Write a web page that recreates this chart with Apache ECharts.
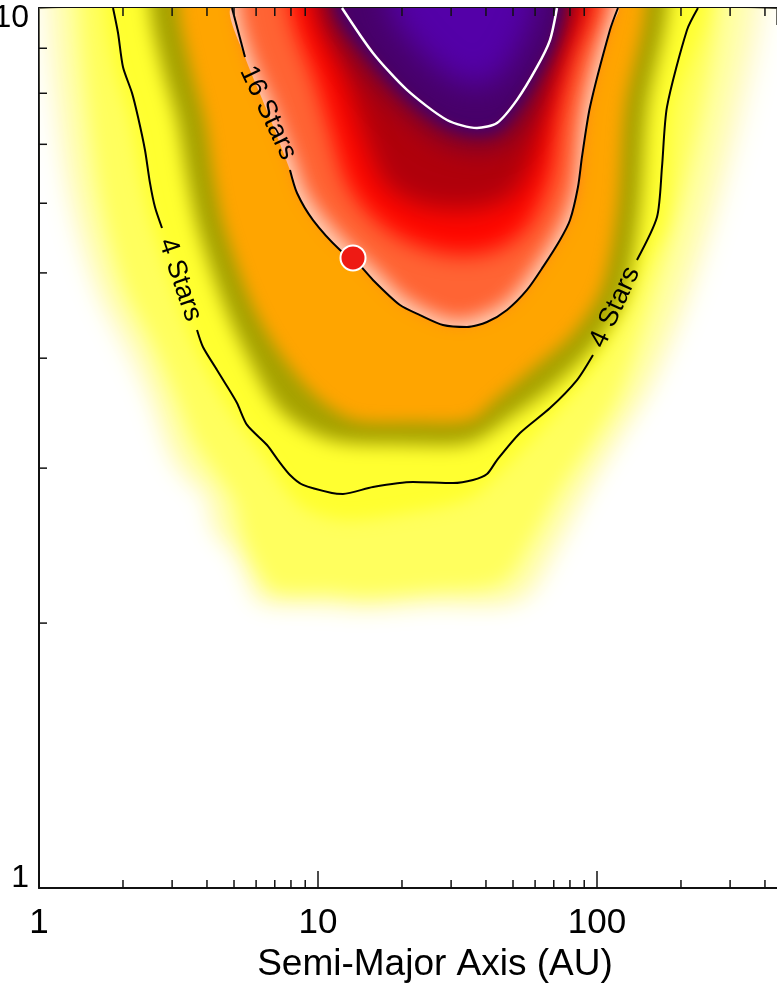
<!DOCTYPE html>
<html><head><meta charset="utf-8">
<script src="https://cdn.jsdelivr.net/npm/echarts@6/dist/echarts.min.js"></script>
<style>html,body{margin:0;padding:0;background:#fff}#c{width:777px;height:989px}</style>
</head><body><div id="c"></div>
<script>
// ---- axes ----
const xRange = [1, 441.8];
const yRange = [1, 10];
const xTickLabels = [1, 10, 100];
const yTickLabels = [1, 10];
const xMinorTicks = [2,3,4,5,6,7,8,9,20,30,40,50,60,70,80,90,200,300,400];
const yMinorTicks = [2,3,4,5,6,7,8,9];
const xTitle = 'Semi-Major Axis (AU)';

// ---- contour lines (semi-major axis AU, mass) ----
const stars4A = [[1.842,10],[1.92,9.367],[2.0,8.57],[2.154,8.009],[2.264,7.518],[2.398,6.897],[2.499,6.327],[2.604,5.94],[2.76,5.623]];
const stars4B = [[3.685,4.306],[3.87,4.119],[4.345,3.879],[4.642,3.749],[5.125,3.557],[5.567,3.359],[6.565,3.187],[7.189,3.064],[7.937,2.947],[8.837,2.871],[11.22,2.811],[12.29,2.804],[15.74,2.856],[21.9,2.893],[30.47,2.885],[35.94,2.908],[40.35,2.954],[43.81,3.064],[52.97,3.289],[67.85,3.511],[84.79,3.778],[96.76,4.034]];
const stars4C = [[139.1,5.172],[164.1,5.787],[171.0,6.597],[178.2,7.721],[210.2,9.441],[230.1,10]];
const stars16A = [[4.918,10],[5.474,8.797]];
const stars16Gap = [[6.619,7.598]];
const stars16B = [[7.936,6.546],[8.41,6.163],[9.596,5.742],[11.99,5.309],[13.35,5.199],[15.74,4.909],[19.67,4.597],[23.21,4.478],[28.05,4.363],[34.2,4.34],[40.34,4.397],[47.58,4.538],[56.12,4.782],[64.05,5.079],[73.7,5.45],[80.05,5.742],[85.48,6.261],[88.35,6.772],[94.39,7.718],[111.3,9.441],[118.9,10]];
const whiteContour = [[12.19,10],[15.74,8.89],[20.84,8.071],[29.0,7.46],[37.15,7.305],[43.81,7.402],[51.68,7.863],[60.95,8.57],[67.84,9.196],[71.87,10]];

// contour labels
const labelText = ['4 Stars', '16 Stars', '4 Stars'];
const labelPos = [[3.2,4.91],[6.62,7.6],[116,4.57]];

// planet
const planet = [[13.35, 5.2]];

// ---- colour field, read as nested level regions (outer -> inner) ----
const fieldOuter = [[1.04,14],[1.04,10],[1.113,7.86],[1.27,6.05],[1.587,4.78],[2.084,4.03],[2.499,3.59],[2.9,3.13],[3.255,2.94],[3.903,2.80],[4.17,2.565],[4.918,2.434],[5.706,2.21],[6.095,2.113],[11.04,2.091],[14.74,2.075],[25.2,2.103],[54.3,2.125],[73.69,2.453],[94.4,2.848],[122.9,3.272],[161.4,3.759],[215.4,4.658],[280.5,6.05],[347.7,7.86],[403.4,10],[403.4,14]];
const fieldPale = [[1.189,14],[1.189,10],[1.27,7.86],[1.426,6.05],[1.767,4.78],[2.301,4.09],[2.714,3.59],[3.149,3.15],[3.624,2.95],[4.274,2.80],[4.528,2.55],[5.254,2.42],[5.946,2.24],[6.352,2.147],[11.04,2.13],[14.74,2.113],[25.2,2.136],[50.83,2.158],[66.74,2.453],[85.5,2.833],[111.3,3.247],[142.6,3.70],[190.4,4.658],[243.8,6.05],[294.8,7.86],[339.2,10],[339.2,14]];
const fieldYellow = [[1.403,14],[1.403,10],[1.498,7.86],[1.682,6.05],[2.033,4.84],[2.605,4.14],[3.149,3.605],[3.624,3.23],[4.274,2.986],[5.041,2.76],[5.475,2.485],[6.3,2.268],[7.013,2.181],[11.04,2.169],[14.74,2.152],[25.2,2.181],[44.91,2.227],[57.53,2.485],[72.49,2.833],[92.85,3.188],[118.9,3.633],[154.9,4.658],[198.4,6.05],[239.8,7.86],[271.4,10],[271.4,14]];
const fieldBright = [[1.724,14],[1.724,10],[1.872,8.50],[2.119,7.46],[2.34,6.33],[2.583,5.59],[3.448,4.27],[4.067,3.83],[4.837,3.49],[6.3,3.105],[8.621,2.724],[12.29,2.619],[21.9,2.674],[35.06,2.774],[46.03,2.986],[70.71,3.447],[102.5,3.982],[148.6,5.13],[175.3,5.74],[190.4,7.70],[245.8,10],[245.8,14]];
const fieldOlive = [[2.499,14],[2.499,10],[2.76,8.57],[3.123,7.46],[3.42,6.33],[3.714,5.62],[4.528,4.66],[5.475,4.07],[7.309,3.49],[11.04,3.23],[21.9,3.188],[35.06,3.204],[48.77,3.421],[70.71,3.729],[98.38,4.14],[126.0,4.72],[142.6,5.895],[152.3,7.72],[179.7,10],[179.7,14]];
const fieldOrange = [[3.175,14],[3.175,10],[3.506,8.57],[3.936,7.46],[4.274,6.33],[4.642,5.62],[5.801,4.62],[7.189,4.09],[9.676,3.643],[13.35,3.41],[21.9,3.385],[35.06,3.403],[43.45,3.595],[58.49,3.889],[80.7,4.25],[103.4,4.794],[117.9,5.895],[126.0,7.72],[148.6,10],[148.6,14]];
const fieldSalmon = [[5.21,14],[5.21,10],[5.801,8.80],[7.013,7.66],[8.341,6.63],[8.909,6.244],[10.17,5.85],[12.6,5.42],[16.41,5.012],[20.33,4.695],[28.05,4.456],[34.2,4.432],[46.8,4.634],[60.95,5.131],[75.54,5.743],[82.72,6.26],[89.1,7.718],[105.1,9.441],[112.2,10],[112.2,14]];
const fieldRed = [[7.938,14],[7.938,10],[9.757,8.28],[11.04,7.27],[12.5,6.38],[14.74,5.895],[18.88,5.52],[25.2,5.31],[34.2,5.24],[44.91,5.337],[55.2,5.594],[62.48,5.972],[68.98,6.545],[72.49,7.461],[81.37,8.728],[95.97,10],[95.97,14]];
const fieldDarkRed = [[10,14],[10,10],[12.5,8.28],[14.74,7.08],[17.38,6.29],[23.2,5.97],[34.2,5.895],[48.77,6.083],[57.53,6.545],[63.52,7.268],[67.85,8.069],[76.8,9.197],[85.5,10],[85.5,14]];
const fieldMaroon = [[10.6,14],[10.6,10],[13.57,8.73],[18.88,7.76],[27.37,7.08],[37.14,6.90],[46.8,7.03],[57.53,7.56],[66.74,8.39],[73.69,9.197],[78.72,10],[78.72,14]];
const fieldPurple = [[11.51,14],[11.51,10],[14.98,8.80],[20.17,7.94],[28.52,7.325],[37.14,7.174],[44.91,7.268],[53.85,7.78],[63.52,8.503],[70.71,9.149],[75.54,10],[75.54,14]];
const fieldIndigo = [[18.11,14],[18.11,10],[21.36,9.197],[27.37,8.503],[35.06,8.176],[43.09,8.284],[50.83,8.843],[56.59,9.441],[59.95,10],[59.95,14]];

const FONT = '"Liberation Sans", Arial, Helvetica, sans-serif';
const OFF = 4000;

function bandSeries(points, color, blur, smooth) {
  return {
    type: 'custom', clip: true, silent: true, z: 2,
    data: points,
    renderItem: function (params, api) {
      if (params.dataIndex !== 0) return null;
      const pts = points.map(p => api.coord(p));
      if (!blur) {
        return { type: 'polygon', shape: { points: pts, smooth: smooth }, style: { fill: color } };
      }
      const shifted = pts.map(p => [p[0] - OFF, p[1]]);
      return {
        type: 'polygon', shape: { points: shifted, smooth: smooth },
        style: { fill: color, shadowColor: color, shadowBlur: blur, shadowOffsetX: OFF, shadowOffsetY: 0 }
      };
    }
  };
}

function lineSeries(data, color, width) {
  return { type: 'line', data: data, symbol: 'none', smooth: 0.25, silent: true, z: 4,
    lineStyle: { color: color, width: width }, clip: true };
}

const near = (v, arr) => arr.some(t => Math.abs(v - t) / t < 1e-6);

const option = {
  animation: false,
  backgroundColor: '#fff',
  grid: { left: 39, right: 0, top: 8, bottom: 101, containLabel: false, outerBoundsMode: 'none' },
  xAxis: [{
    type: 'log', logBase: 10, min: xRange[0], max: xRange[1], position: 'bottom',
    name: xTitle, nameLocation: 'middle', nameGap: 57,
    nameTextStyle: { fontSize: 37, color: '#000', fontFamily: FONT, padding: [0, 0, 0, 54] },
    axisLine: { show: true, onZero: false, lineStyle: { color: '#111', width: 2 } },
    axisTick: { show: true, inside: true, length: 17, lineStyle: { color: '#111', width: 1.5 } },
    axisLabel: { margin: 18, fontSize: 35, color: '#000', fontFamily: FONT, showMaxLabel: false,
      formatter: v => near(v, xTickLabels) ? String(Math.round(v)) : '' },
    splitLine: { show: false }
  }, {
    type: 'log', logBase: 10, min: xRange[0], max: xRange[1], position: 'top',
    axisLine: { show: true, onZero: false, lineStyle: { color: '#111', width: 2 } },
    axisTick: { show: true, inside: true, length: 17, lineStyle: { color: '#111', width: 1.5 } },
    axisLabel: { show: false }, splitLine: { show: false }
  }],
  yAxis: {
    type: 'log', logBase: 10, min: yRange[0], max: yRange[1],
    axisLine: { show: true, onZero: false, lineStyle: { color: '#111', width: 2 } },
    axisTick: { show: false },
    axisLabel: { margin: 10, fontSize: 32, color: '#000', fontFamily: FONT,
      formatter: v => near(v, [yTickLabels[1]]) ? '{t|' + yTickLabels[1] + '}' : (near(v, [yTickLabels[0]]) ? '{b|' + yTickLabels[0] + '}' : ''),
      rich: { t: { fontSize: 32, fontFamily: FONT, color: '#000', padding: [20, 0, 0, 0] },
              b: { fontSize: 32, fontFamily: FONT, color: '#000', padding: [0, 0, 20, 0] } } },
    splitLine: { show: false }
  },
  series: [
    bandSeries(fieldOuter, '#fffbd2', 26, 0.3),
    bandSeries(fieldPale, '#ffff9c', 24, 0.3),
    bandSeries(fieldYellow, '#ffff5e', 18, 0.3),
    bandSeries(fieldBright, '#ffff30', 16, 0.3),
    bandSeries(fieldOlive, '#a6a200', 18, 0.3),
    bandSeries(fieldOrange, '#ffa500', 16, 0.3),
    bandSeries(stars16A.concat(stars16Gap, stars16B), '#ffd0b6', 0, 0.2),
    bandSeries(fieldSalmon, '#ff6434', 18, 0.3),
    bandSeries(fieldRed, '#ff0800', 22, 0.3),
    bandSeries(fieldDarkRed, '#b0000c', 26, 0.3),
    bandSeries(fieldMaroon, '#780030', 26, 0.3),
    bandSeries(fieldPurple, '#48006a', 14, 0.3),
    bandSeries(fieldIndigo, '#5400a8', 30, 0.3),
    lineSeries(stars4A, '#000', 2),
    lineSeries(stars4B, '#000', 2),
    lineSeries(stars4C, '#000', 2),
    lineSeries(stars16A, '#000', 2),
    lineSeries(stars16B, '#000', 2),
    lineSeries(whiteContour, '#fff', 2.5),
    {
      type: 'custom', silent: true, z: 5, data: labelPos,
      renderItem: function (params, api) {
        const p = api.coord([api.value(0), api.value(1)]);
        const ang = [-71, -64.6, 65.2][params.dataIndex];
        return { type: 'text', x: p[0], y: p[1], rotation: ang * Math.PI / 180,
          style: { text: labelText[params.dataIndex], fontSize: 27, fontFamily: FONT, fill: '#000',
            align: 'center', verticalAlign: 'middle' } };
      }
    },
    {
      type: 'scatter', data: planet, symbol: 'circle', symbolSize: 25, z: 6, silent: true,
      itemStyle: { color: '#ee1a14', borderColor: '#fff', borderWidth: 2, opacity: 1 }
    },
    {
      type: 'custom', silent: true, z: 7, clip: false,
      data: xMinorTicks.map(v => [v, yRange[0]]),
      renderItem: function (params, api) {
        const v = api.value(0);
        const b = api.coord([v, yRange[0]]);
        const t = api.coord([v, yRange[1]]);
        const st = { stroke: '#111', lineWidth: 1.5 };
        return { type: 'group', children: [
          { type: 'line', shape: { x1: b[0], y1: b[1], x2: b[0], y2: b[1] - 8 }, style: st },
          { type: 'line', shape: { x1: t[0], y1: t[1], x2: t[0], y2: t[1] + 8 }, style: st }
        ] };
      }
    },
    {
      type: 'custom', silent: true, z: 7, clip: false,
      data: yMinorTicks.map(v => [xRange[0], v]),
      renderItem: function (params, api) {
        const l = api.coord([xRange[0], api.value(1)]);
        return { type: 'line', shape: { x1: l[0], y1: l[1], x2: l[0] + 8, y2: l[1] },
          style: { stroke: '#111', lineWidth: 1.5 } };
      }
    }
  ]
};

const chart = echarts.init(document.getElementById('c'), null, { renderer: 'canvas' });
chart.setOption(option);
</script>
</body></html>
